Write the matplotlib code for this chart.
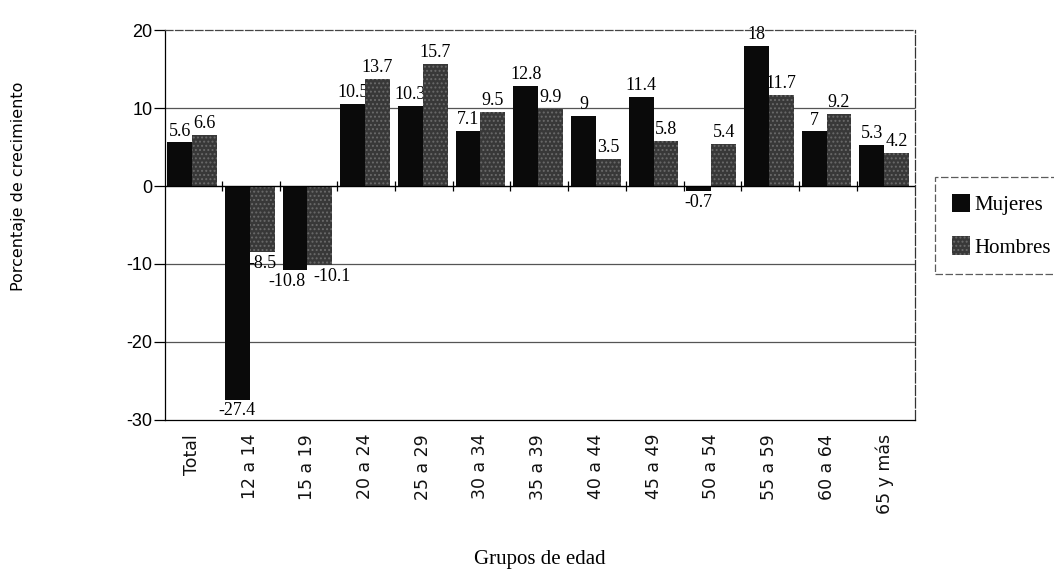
import numpy as np
import matplotlib
matplotlib.use("Agg")
import matplotlib.pyplot as plt
from matplotlib.patches import Patch


categories = ["Total", "12 a 14", "15 a 19", "20 a 24", "25 a 29", "30 a 34",
              "35 a 39", "40 a 44", "45 a 49", "50 a 54", "55 a 59", "60 a 64",
              "65 y más"]
mujeres = [5.6, -27.4, -10.8, 10.5, 10.3, 7.1, 12.8, 9.0, 11.4, -0.7, 18.0, 7.0, 5.3]
hombres = [6.6, -8.5, -10.1, 13.7, 15.7, 9.5, 9.9, 3.5, 5.8, 5.4, 11.7, 9.2, 4.2]
y_ticks = [20, 10, 0, -10, -20, -30]

SERIF = "Liberation Serif"
SANS = "DejaVu Sans"

# small sideways nudges (points) where the original labels were pushed apart
label_nudge = {("m", 2): -6, ("h", 2): 9}


def fmt(v):
    return f"{v:g}"


def add_labels(ax, xs, vals, key):
    for i, (x, v) in enumerate(zip(xs, vals)):
        off = 2 if v >= 0 else -2
        dx = label_nudge.get((key, i), 0)
        ax.annotate(fmt(v), (x, v), xytext=(dx, off), textcoords="offset points",
                    ha="center", va="bottom" if v >= 0 else "top",
                    fontsize=13, family=SERIF, zorder=1)


def main():
    plt.rcParams["hatch.linewidth"] = 0.9
    fig = plt.figure(figsize=(10.54, 5.75), dpi=100)
    ax = fig.add_axes([0.1565, 0.2696, 0.7115, 0.6782])

    x = np.arange(len(categories))
    w = 0.43
    ax.bar(x - w / 2, mujeres, w, color="#0a0a0a", zorder=3)
    ax.bar(x + w / 2, hombres, w, color="#383838", hatch="....",
           edgecolor="#6a6a6a", linewidth=0, zorder=3)

    add_labels(ax, x - w / 2, mujeres, "m")
    add_labels(ax, x + w / 2, hombres, "h")

    ax.set_xlim(-0.47, len(categories) - 0.47)
    ax.set_ylim(-30, 20)

    for g in [10, -10, -20]:
        ax.axhline(g, color="#555555", lw=0.9, zorder=0)
    ax.axhline(0, color="black", lw=1.0, zorder=4)
    bounds = x[:-1] + 0.52
    ax.vlines(bounds, -0.7, 0.7, color="black", lw=0.9, zorder=4)

    ax.spines["top"].set_linestyle((0, (6, 2)))
    ax.spines["top"].set_color("#444444")
    ax.spines["right"].set_color("#333333")
    ax.spines["right"].set_linestyle((0, (8, 2)))
    for s in ["top", "right", "left", "bottom"]:
        ax.spines[s].set_linewidth(0.9)

    ax.set_yticks(y_ticks)
    ax.set_yticklabels([str(t) for t in y_ticks], family="Liberation Sans",
                       fontsize=13)
    ax.tick_params(axis="y", direction="out", length=8, width=0.9, pad=1)

    ax.set_xticks(x)
    ax.set_xticklabels(categories, rotation=90, fontsize=12.5,
                       family=SANS, color="#111111")
    ax.tick_params(axis="x", length=0, pad=10)

    ax.set_ylabel("Porcentaje de crecimiento", family=SANS, fontsize=11.5)
    ax.yaxis.set_label_coords(-0.185, 0.6)
    ax.set_xlabel("Grupos de edad", family=SERIF, fontsize=15, labelpad=26)

    handles = [Patch(facecolor="#0a0a0a"),
               Patch(facecolor="#383838", hatch="....", edgecolor="#6a6a6a",
                     linewidth=0)]
    leg = fig.legend(handles, ["Mujeres", "Hombres"], loc="upper left",
                     bbox_to_anchor=(0.887, 0.692), frameon=True, fancybox=False,
                     prop={"family": SERIF, "size": 15}, handlelength=0.9,
                     handleheight=1.0, handletextpad=0.2, labelspacing=1.0,
                     borderpad=0.8, borderaxespad=0.0)
    frame = leg.get_frame()
    frame.set_edgecolor("#333333")
    frame.set_linestyle((0, (6, 2)))
    frame.set_linewidth(0.9)

    fig.savefig("out.png", dpi=100)
    plt.close(fig)


if __name__ == "__main__":
    main()
